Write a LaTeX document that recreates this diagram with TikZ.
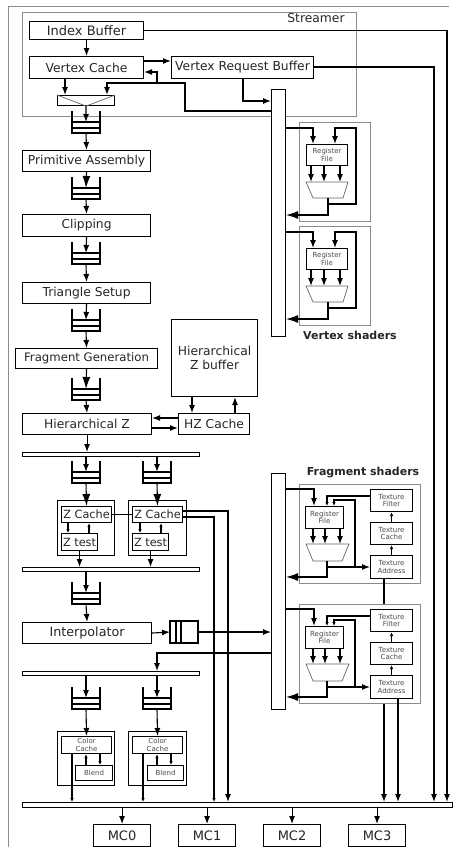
\documentclass[tikz,border=0pt]{standalone}
\usepackage{fontspec}
\setmainfont{DejaVu Sans}
\usetikzlibrary{arrows.meta,calc}

\tikzset{
  wire/.style={line width=1.1pt},
  arr/.style={wire,-{Latex[length=8pt,width=6pt]}},
  bigarr/.style={wire,-{Latex[length=12pt,width=8pt]}},
  smallarr/.style={wire,-{Latex[length=4pt,width=3.5pt]}},
  blk/.style={draw,line width=1.1pt,fill=white,inner sep=0pt,anchor=north west,
    text=black!85,font=\fontsize{12.3}{14}\selectfont},
  sblk/.style={blk,font=\fontsize{7}{7.6}\selectfont,text=black!70,align=center},
  unit/.style={draw=black!45,line width=1pt,fill=white,inner sep=0pt,anchor=north west},
  bar/.style={draw,line width=1.1pt,fill=white,inner sep=0pt,anchor=north west},
  fifobox/.style={inner sep=0pt,outer sep=0pt,anchor=north west,minimum width=28,minimum height=22},
  frame/.style={draw=black!45,line width=1pt},
  alu/.style={draw=black!60,line width=.7pt},
  lbl/.style={font=\bfseries\fontsize{11}{13}\selectfont,text=black!85},
}

% queue: name, x, y of top left corner
\newcommand\fifo[3]{%
  \node[fifobox] (#1) at (#2,#3) {};
  \draw[wire] (#1.north west) -- (#1.south west) -- (#1.south east) -- (#1.north east);
  \draw[wire] ($(#1.south west)+(0,-5)$) -- ($(#1.south east)+(0,-5)$);
  \draw[wire] ($(#1.south west)+(0,-11)$) -- ($(#1.south east)+(0,-11)$);
  \coordinate (#1-in) at ($(#1.south)+(0,-11)$);
}

\begin{document}
\begin{tikzpicture}[x=1pt,y=-1pt]
  \useasboundingbox (0,0) rectangle (454,847);
  \draw[frame] (8,847) -- (8,6) -- (449,6);
  \draw[frame] (22,12) rectangle (356,116);
  \node[text=black!85,font=\fontsize{12.3}{14}\selectfont] (strm) at (316,18) {Streamer};

  % geometry pipeline
  \node[blk,minimum width=114,minimum height=18,font=\fontsize{13}{15}\selectfont] (ib) at (29,21) {Index Buffer};
  \node[blk,minimum width=114,minimum height=22] (vc) at (29,56) {Vertex Cache};
  \node[blk,minimum width=142,minimum height=22] (vrb) at (171,56) {Vertex Request Buffer};
  \node[blk,minimum width=57,minimum height=10] (mux) at (57,95) {};
  \draw[alu] (mux.north west) -- (mux.south) -- (mux.north east);
  \fifo{q1}{72}{111}
  \node[blk,minimum width=128,minimum height=21] (pa) at (22,150) {Primitive Assembly};
  \fifo{q2}{72}{177}
  \node[blk,minimum width=128,minimum height=22] (clip) at (22,214) {Clipping};
  \fifo{q3}{72}{242}
  \node[blk,minimum width=128,minimum height=21] (ts) at (22,282) {Triangle Setup};
  \fifo{q4}{72}{309}
  \node[blk,minimum width=142,minimum height=20,font=\fontsize{11.7}{14}\selectfont] (fg) at (15,348) {Fragment Generation};
  \fifo{q5}{72}{378}
  \node[blk,minimum width=129,minimum height=21] (hz) at (22,413) {Hierarchical Z};
  \node[blk,minimum width=71,minimum height=21] (hzc) at (178,413) {HZ Cache};
  \node[blk,minimum width=86,minimum height=77,align=center] (hzb) at (171,319) {Hierarchical\\Z buffer};

  % z test stage
  \node[bar,minimum width=177,minimum height=4] (bar1) at (22,452) {};
  \fifo{q6}{72}{461}
  \fifo{q7}{143}{461}
  \node[blk,minimum width=57,minimum height=55] (zA) at (57,500) {};
  \node[blk,minimum width=58,minimum height=55] (zB) at (128,500) {};
  \node[blk,minimum width=50,minimum height=16,font=\fontsize{11.3}{13}\selectfont] (zcA) at (61,506) {Z Cache};
  \node[blk,minimum width=36,minimum height=17,font=\fontsize{11.3}{13}\selectfont] (ztA) at (61,533) {Z test};
  \node[blk,minimum width=50,minimum height=16,font=\fontsize{11.3}{13}\selectfont] (zcB) at (132,506) {Z Cache};
  \node[blk,minimum width=36,minimum height=17,font=\fontsize{11.3}{13}\selectfont] (ztB) at (132,533) {Z test};
  \node[bar,minimum width=177,minimum height=4] (bar2) at (22,567) {};
  \fifo{q8}{72}{582}
  \node[blk,minimum width=129,minimum height=21,font=\fontsize{12.7}{14}\selectfont] (ip) at (22,622) {Interpolator};
  \node[fifobox] (hq) at (170,621) {};
  \draw[wire] (hq.north west) rectangle (hq.south east);
  \draw[wire] ($(hq.north west)+(6,0)$) -- ($(hq.south west)+(6,0)$);
  \draw[wire] ($(hq.north west)+(11,0)$) -- ($(hq.south west)+(11,0)$);

  % color stage
  \node[bar,minimum width=177,minimum height=4] (bar3) at (22,671) {};
  \fifo{q9}{72}{687}
  \fifo{q10}{143}{687}
  \node[blk,minimum width=57,minimum height=54] (cA) at (57,731) {};
  \node[blk,minimum width=58,minimum height=54] (cB) at (128,731) {};
  \node[sblk,minimum width=50,minimum height=17] (ccA) at (61,736) {Color\\Cache};
  \node[sblk,minimum width=37,minimum height=15] (blA) at (75,765) {Blend};
  \node[sblk,minimum width=50,minimum height=17] (ccB) at (132,736) {Color\\Cache};
  \node[sblk,minimum width=36,minimum height=15] (blB) at (147,765) {Blend};

  % memory
  \node[bar,minimum width=430,minimum height=5] (bus) at (22,802) {};
  \foreach \m/\x in {0/93,1/178,2/263,3/348}{
    \node[blk,minimum width=57,minimum height=22,font=\fontsize{13}{15}\selectfont] (mc\m) at (\x,824) {MC\m};
    \draw[arr] (mc\m.north |- bus.south) -- (mc\m.north);
  }

  % shader buses
  \node[bar,minimum width=14,minimum height=247] (vbar) at (271,89) {};
  \node[bar,minimum width=14,minimum height=236] (fbar) at (271,473) {};
  \node[lbl] (vlbl) at (350,335) {Vertex shaders};
  \node[lbl] (flbl) at (363,473) {Fragment shaders};

  % pipeline connections
  \draw[arr] (ib.south) -- (vc.north);
  \draw[arr] (ib.east) -| (447,0 |- bus.north);
  \draw[arr] (vc.east |- 0,61) -- (vrb.west |- 0,61);
  \draw[arr] (vrb.east |- 0,67) -| (434,0 |- bus.north);
  \draw[arr] (243,0 |- vrb.south) |- (vbar.west |- 0,101);
  \draw[arr] (vbar.west |- 0,111) -| (185,83) -| (107,0 |- mux.north);
  \draw[arr] (157,83) |- (vc.east |- 0,72);
  \draw[arr] (65,0 |- vc.south) -- (65,0 |- mux.north);
  \foreach \a/\b in {mux/q1,clip/q3,ts/q4}
    \draw[arr] (\a.south) -- (\b-in);
  \foreach \a/\b in {pa/q2,fg/q5}
    \draw[bigarr] (\a.south) -- (\b-in);
  \foreach \a/\b in {q1/pa,q2/clip,q3/ts,q4/fg,q5/hz}
    \draw[arr] (\a.south) -- (\b.north);
  \draw[arr] (192,0 |- hzb.south) -- (192,0 |- hzc.north);
  \draw[arr] (235,0 |- hzc.north) -- (235,0 |- hzb.south);
  \draw[arr] (hzc.west |- 0,418) -- (hz.east |- 0,418);
  \draw[arr] (hz.east |- 0,428) -- (hzc.west |- 0,428);
  \draw[arr] (hz.south) -- (hz.south |- bar1.north);
  \draw[arr] (q6.north |- bar1.south) -- (q6-in);
  \draw[arr] (q7.north |- bar1.south) -- (q7-in);
  \draw[bigarr] (q6.south) -- (zcA.north);
  \draw[bigarr] (q7.south) -- (zcB.north);
  \draw[smallarr] (68,0 |- zcA.south) -- (68,0 |- ztA.north);
  \draw[smallarr] (89,0 |- ztA.north) -- (89,0 |- zcA.south);
  \draw[smallarr] (140,0 |- zcB.south) -- (140,0 |- ztB.north);
  \draw[smallarr] (161,0 |- ztB.north) -- (161,0 |- zcB.south);
  \draw[arr] (ztA.south) -- (ztA.south |- bar2.north);
  \draw[arr] (ztB.south) -- (ztB.south |- bar2.north);
  \draw[wire] (zcA.east) -- (zcB.west);
  \draw[arr] (zcB.east |- 0,511) -| (228,0 |- bus.north);
  \draw[smallarr] (zcB.east |- 0,517) -| (214,0 |- bus.north);
  \draw[arr] (q8.north |- bar2.south) -- (q8-in);
  \draw[arr] (q8.south) -- (ip.north);
  \draw[arr] (ip.east) -- (hq.west);
  \draw[arr] (hq.east) -- (hq.east -| fbar.west);
  \draw[arr] (fbar.west |- 0,653) -| (157,0 |- bar3.north);
  \draw[arr] (q9.north |- bar3.south) -- (q9-in);
  \draw[arr] (q10.north |- bar3.south) -- (q10-in);
  \draw[arr] (q9.south) -- (ccA.north);
  \draw[arr] (q10.south) -- (ccB.north);
  \draw[smallarr] (86,0 |- blA.north) -- (86,0 |- ccA.south);
  \draw[smallarr] (100,0 |- ccA.south) -- (100,0 |- blA.north);
  \draw[smallarr] (157,0 |- blB.north) -- (157,0 |- ccB.south);
  \draw[smallarr] (171,0 |- ccB.south) -- (171,0 |- blB.north);
  \draw[smallarr] (72,0 |- ccA.south) -- (72,0 |- bus.north);
  \draw[smallarr] (143,0 |- ccB.south) -- (143,0 |- bus.north);

  % vertex shader units
  \foreach \i/\dy in {1/0,2/104}{
    \node[unit,minimum width=71,minimum height=99] (vs\i) at (299,122+\dy) {};
    \node[sblk,minimum width=41,minimum height=21] (vrf\i) at (306,144+\dy) {Register\\File};
    \draw[alu] (306,182+\dy) -- (348,182+\dy) -- (343,198+\dy) -- (313,198+\dy) -- cycle;
    \coordinate (valu\i) at (328,198+\dy);
    \foreach \x in {311,324,340}
      \draw[arr] (\x,0 |- vrf\i.south) -- (\x,182+\dy);
    \draw[arr] (vbar.east |- 0,128+\dy) -| (313,0 |- vrf\i.north);
    \draw[arr] (328,204+\dy) -| (356,128+\dy) -| (335,0 |- vrf\i.north);
    \draw[bigarr] (valu\i) -- (328,215+\dy) -- (vbar.east |- 0,215+\dy);
  }

  % fragment shader units
  \foreach \i/\dy in {1/0,2/120}{
    \node[unit,minimum width=121,minimum height=99] (fs\i) at (299,484+\dy) {};
    \node[sblk,minimum width=38,minimum height=22] (frf\i) at (305,506+\dy) {Register\\File};
    \node[sblk,minimum width=42,minimum height=22] (tf\i) at (370,489+\dy) {Texture\\Filter};
    \node[sblk,minimum width=42,minimum height=22] (tc\i) at (370,522+\dy) {Texture\\Cache};
    \node[sblk,minimum width=42,minimum height=23] (ta\i) at (370,555+\dy) {Texture\\Address};
    \draw[alu] (306,544+\dy) -- (349,544+\dy) -- (342,561+\dy) -- (313,561+\dy) -- cycle;
    \coordinate (falu\i) at (327,561+\dy);
    \foreach \x in {313,325,340}
      \draw[arr] (\x,0 |- frf\i.south) -- (\x,544+\dy);
    \draw[arr] (fbar.east |- 0,489+\dy) -| (314,0 |- frf\i.north);
    \draw[smallarr] (tf\i.west |- 0,496+\dy) -| (327,0 |- frf\i.north);
    \draw[smallarr] (355,567+\dy) |- (334,500+\dy) -- (334,0 |- frf\i.north);
    \draw[bigarr] (falu\i) -- (327,577+\dy) -- (fbar.east |- 0,577+\dy);
    \draw[arr] (327,567+\dy) -- (ta\i.west |- 0,567+\dy);
    \draw[smallarr] (tc\i.north) -- (tf\i.south);
    \draw[smallarr] (ta\i.north) -- (tc\i.south);
    \draw[arr] (370+14*\i,0 |- ta\i.south) -- (370+14*\i,0 |- bus.north);
  }
\end{tikzpicture}
\end{document}
